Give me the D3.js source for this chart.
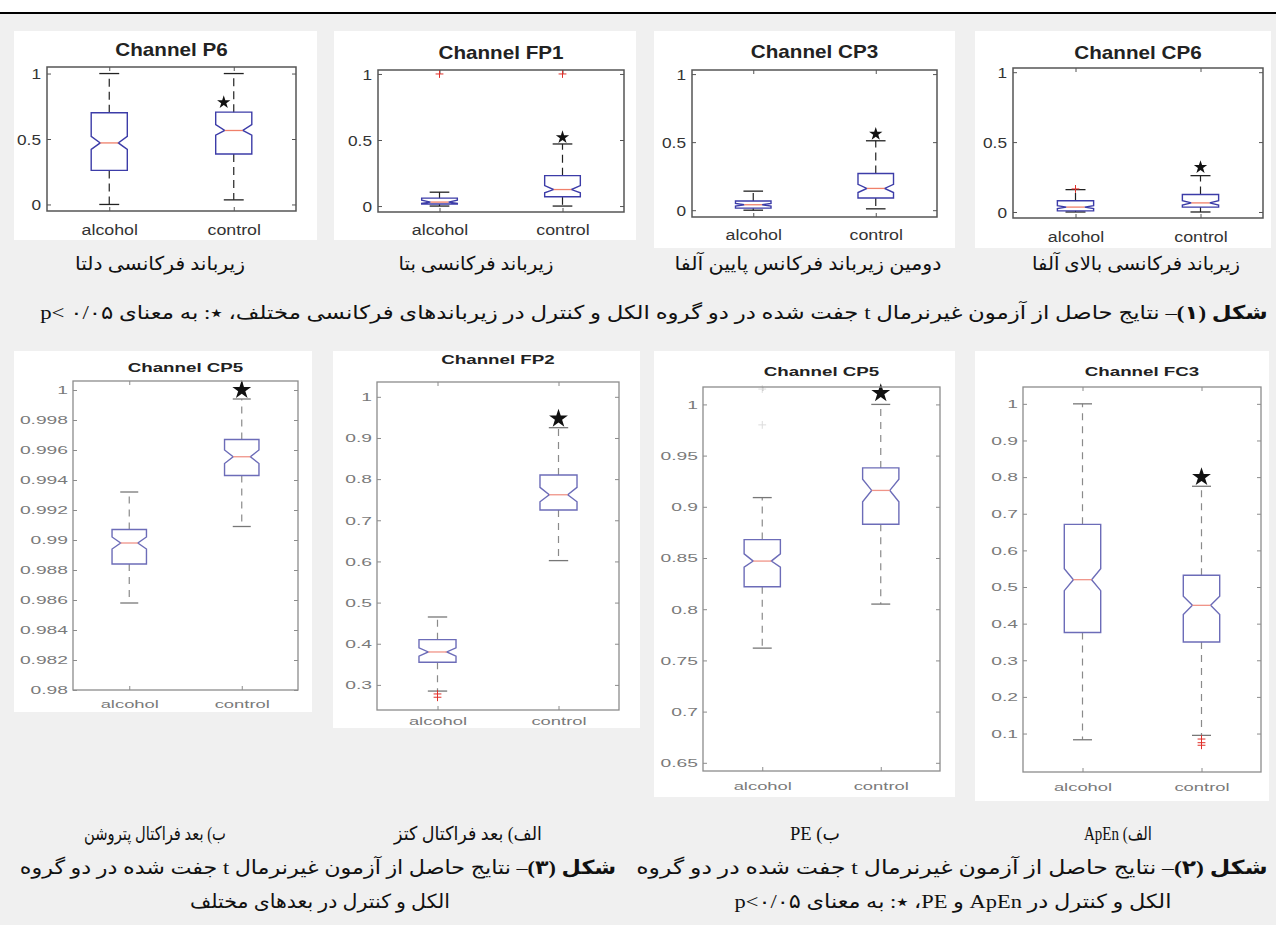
<!DOCTYPE html>
<html>
<head>
<meta charset="utf-8">
<script src="https://cdn.jsdelivr.net/npm/d3@7"></script>
<style>
  body { margin: 0; background: #fff; }
</style>
</head>
<body>
<svg id="fig" width="1276" height="935"></svg>
<script>
// ---- data ----
const groups = ['alcohol', 'control'];
const titles = ['Channel P6', 'Channel FP1', 'Channel CP3', 'Channel CP6',
                'Channel CP5', 'Channel FP2', 'Channel CP5', 'Channel FC3'];

const yTicks = [
  [0, 0.5, 1], [0, 0.5, 1], [0, 0.5, 1], [0, 0.5, 1],
  [0.98, 0.982, 0.984, 0.986, 0.988, 0.99, 0.992, 0.994, 0.996, 0.998, 1],
  [0.3, 0.4, 0.5, 0.6, 0.7, 0.8, 0.9, 1],
  [0.65, 0.7, 0.75, 0.8, 0.85, 0.9, 0.95, 1],
  [0.1, 0.2, 0.3, 0.4, 0.5, 0.6, 0.7, 0.8, 0.9, 1]
];

// each entry: [alcohol, control]
const whiskerLow  = [[0, 0.035], [0, 0], [0, 0.01], [0, 0], [0.9858, 0.9909], [0.285, 0.602], [0.762, 0.805], [0.083, 0.095]];
const quart1      = [[0.26, 0.385], [0.015, 0.07], [0.015, 0.09], [0.008, 0.035], [0.9884, 0.9943], [0.355, 0.725], [0.822, 0.883], [0.376, 0.35]];
const notchLow    = [[0.42, 0.53], [0.02, 0.10], [0.03, 0.13], [0.025, 0.05], [0.9894, 0.9951], [0.37, 0.745], [0.841, 0.905], [0.49, 0.425]];
const medians     = [[0.47, 0.565], [0.03, 0.125], [0.04, 0.16], [0.035, 0.065], [0.9898, 0.99555], [0.38, 0.762], [0.847, 0.916], [0.52, 0.45]];
const notchHigh   = [[0.52, 0.61], [0.045, 0.155], [0.05, 0.19], [0.045, 0.08], [0.9902, 0.996], [0.39, 0.78], [0.854, 0.927], [0.55, 0.475]];
const quart3      = [[0.70, 0.705], [0.06, 0.23], [0.068, 0.27], [0.08, 0.125], [0.9907, 0.9967], [0.41, 0.81], [0.868, 0.938], [0.671, 0.532]];
const whiskerHigh = [[1, 1], [0.105, 0.47], [0.14, 0.51], [0.16, 0.26], [0.9932, 0.9994], [0.465, 0.925], [0.909, 1.0], [1.0, 0.775]];
const outliers    = [[[], []], [[1], [1]], [[], []], [[0.165], []], [[], []], [[0.278, 0.27], []], [[0.98, 1.015], []], [[], [0.085, 0.075, 0.068]]];
// significance star drawn over the control group
const starAt = [0.78, 0.52, 0.56, 0.32, 1.0, 0.947, 1.011, 0.80];

const subCaptions = ['زیرباند فرکانسی دلتا', 'زیرباند فرکانسی بتا', 'دومین زیرباند فرکانس پایین آلفا', 'زیرباند فرکانسی بالای آلفا',
                     'ب) بعد فراکتال پتروشن', 'الف) بعد فراکتال کتز', 'ب) PE', 'الف) ApEn'];
const fig1Caption = ['شکل (۱)', '– نتایج حاصل از آزمون غیرنرمال t جفت شده در دو گروه الکل و کنترل در زیرباندهای فرکانسی مختلف، ٭: به معنای p< ۰/۰۵'];
const fig3Caption = ['شکل (۳)', '– نتایج حاصل از آزمون غیرنرمال t جفت شده در دو گروه', 'الکل و کنترل در بعدهای مختلف'];
const fig2Caption = ['شکل (۲)', '– نتایج حاصل از آزمون غیرنرمال t  جفت شده در دو گروه', 'الکل و کنترل در ApEn و PE، ٭: به معنای p<۰/۰۵'];

// ---- layout ----
// rect: white image area [x, y, w, h]; frame: plot box [x0, y0, x1, y1]
const panels = [
  { rect: [14, 31, 303, 209],  frame: [47, 67, 296, 211],    dom: [-0.05, 1.05],    titleY: 50,  labY: 230, row: 1, capX: 160,  capW: 170, starDx: -10 },
  { rect: [334, 31, 302, 209], frame: [378, 70, 624, 212],   dom: [-0.045, 1.03],   titleY: 53,  labY: 230, row: 1, capX: 476,  capW: 155, starDx: 0 },
  { rect: [654, 31, 301, 217], frame: [692, 70, 937, 217],   dom: [-0.05, 1.03],    titleY: 52,  labY: 235, row: 1, capX: 808,  capW: 267, starDx: 0 },
  { rect: [975, 31, 296, 217], frame: [1013, 68, 1263, 218], dom: [-0.043, 1.03],   titleY: 53,  labY: 237, row: 1, capX: 1136, capW: 208, starDx: 0 },
  { rect: [14, 351, 298, 361], frame: [73, 381, 298, 690],   dom: [0.98, 1.0006],   titleY: 368, labY: 704, row: 2, capX: 155,  capW: 142, starDx: 0 },
  { rect: [333, 351, 307, 377], frame: [377, 382, 619, 710], dom: [0.239, 1.036],   titleY: 360, labY: 721, row: 2, capX: 468,  capW: 148, starDx: 0 },
  { rect: [654, 351, 301, 446], frame: [703, 387, 940, 771], dom: [0.642, 1.017],   titleY: 372, labY: 786, row: 2, capX: 815,  capW: 50,  starDx: 0, faintOut: true },
  { rect: [975, 351, 294, 450], frame: [1023, 387, 1261, 772], dom: [-0.005, 1.046], titleY: 372, labY: 787, row: 2, capX: 1118, capW: 68,  starDx: 0 }
];

const styles = {
  1: { frame: '#555', fw: 1.5, text: '#333', tick: 15, tickSx: 1.15, pad: 6, lab: 15.5, labSx: 1.15, title: 17.5, titleSx: 1.18,
       box: '#3c3ca8', med: '#f0806a', whisk: '#222', cap: '#222', dash: '8,5', star: 55, hw: 0.145, tickLen: 4 },
  2: { frame: '#8c8c8c', fw: 1.3, text: '#7a7a7a', tick: 11, tickSx: 1.75, pad: 5, lab: 11.5, labSx: 1.6, title: 12.5, titleSx: 1.5,
       box: '#6c6cb8', med: '#f09488', whisk: '#8a8a8a', cap: '#777', dash: '7,6', star: 110, hw: 0.153, tickLen: 4 }
};

const sans = "'Liberation Sans', Arial, sans-serif";
const serif = "'Liberation Serif', 'DejaVu Sans', serif";

const svg = d3.select('#fig');
svg.append('rect').attr('x', 0).attr('y', 0).attr('width', 1276).attr('height', 935).attr('fill', '#fff');
svg.append('rect').attr('x', 0).attr('y', 14).attr('width', 1276).attr('height', 911).attr('fill', '#f0f0f0');
svg.append('line').attr('x1', 0).attr('x2', 1276).attr('y1', 13).attr('y2', 13)
  .attr('stroke', '#000').attr('stroke-width', 2);

function drawPanel(i) {
  const p = panels[i];
  const st = styles[p.row];
  const [fx0, fy0, fx1, fy1] = p.frame;
  const g = svg.append('g');

  g.append('rect').attr('x', p.rect[0]).attr('y', p.rect[1]).attr('width', p.rect[2]).attr('height', p.rect[3]).attr('fill', '#fff');

  const x = d3.scaleLinear().domain([0.5, 2.5]).range([fx0, fx1]);
  const y = d3.scaleLinear().domain(p.dom).range([fy1, fy0]);

  // axes with inward ticks on all four sides
  const left = g.append('g').attr('transform', `translate(${fx0},0)`)
    .call(d3.axisLeft(y).tickValues(yTicks[i]).tickSizeInner(-st.tickLen).tickSizeOuter(0)
      .tickPadding(st.pad).tickFormat(d => String(d)));
  const right = g.append('g').attr('transform', `translate(${fx1},0)`)
    .call(d3.axisRight(y).tickValues(yTicks[i]).tickSizeInner(-st.tickLen).tickSizeOuter(0).tickFormat(''));
  const bottom = g.append('g').attr('transform', `translate(0,${fy1})`)
    .call(d3.axisBottom(x).tickValues([1, 2]).tickSizeInner(-st.tickLen).tickSizeOuter(0)
      .tickFormat(d => groups[d - 1]));
  const top = g.append('g').attr('transform', `translate(0,${fy0})`)
    .call(d3.axisTop(x).tickValues([1, 2]).tickSizeInner(-st.tickLen).tickSizeOuter(0).tickFormat(''));

  [left, right, bottom, top].forEach(a => {
    a.select('.domain').remove();
    a.selectAll('line').attr('stroke', st.frame).attr('stroke-width', 1);
    a.attr('font-family', sans);
  });
  left.selectAll('text')
    .attr('fill', st.text).style('font-size', st.tick + 'px')
    .attr('x', -st.pad / st.tickSx).attr('dy', '0.35em')
    .attr('transform', `scale(${st.tickSx},1)`);
  bottom.selectAll('text')
    .attr('fill', st.text).style('font-size', st.lab + 'px')
    .attr('y', p.labY - fy1).attr('dy', '0.35em')
    .attr('transform', `scale(${st.labSx},1)`);

  // title
  g.append('g').attr('transform', `translate(${(fx0 + fx1) / 2},${p.titleY}) scale(${st.titleSx},1)`)
    .append('text').attr('text-anchor', 'middle').attr('dy', '0.35em')
    .style('font-family', sans).style('font-size', st.title + 'px').style('font-weight', 'bold')
    .attr('fill', '#222').text(titles[i]);

  const hw = x(1 + st.hw) - x(1);
  const cw = x(1.08) - x(1);

  groups.forEach((grp, j) => {
    const cx = x(j + 1);
    // whiskers
    g.append('line').attr('x1', cx).attr('x2', cx)
      .attr('y1', y(quart3[i][j])).attr('y2', y(whiskerHigh[i][j]))
      .attr('stroke', st.whisk).attr('stroke-width', 1.2).attr('stroke-dasharray', st.dash);
    g.append('line').attr('x1', cx).attr('x2', cx)
      .attr('y1', y(quart1[i][j])).attr('y2', y(whiskerLow[i][j]))
      .attr('stroke', st.whisk).attr('stroke-width', 1.2).attr('stroke-dasharray', st.dash);
    [whiskerHigh[i][j], whiskerLow[i][j]].forEach(v => {
      g.append('line').attr('x1', cx - cw).attr('x2', cx + cw).attr('y1', y(v)).attr('y2', y(v))
        .attr('stroke', st.cap).attr('stroke-width', 1.3);
    });

    // notched box
    const pts = [
      [cx - hw, y(quart1[i][j])], [cx - hw, y(notchLow[i][j])], [cx - hw / 2, y(medians[i][j])],
      [cx - hw, y(notchHigh[i][j])], [cx - hw, y(quart3[i][j])], [cx + hw, y(quart3[i][j])],
      [cx + hw, y(notchHigh[i][j])], [cx + hw / 2, y(medians[i][j])], [cx + hw, y(notchLow[i][j])],
      [cx + hw, y(quart1[i][j])]
    ];
    g.append('path').attr('d', d3.line()(pts) + 'Z')
      .attr('fill', 'none').attr('stroke', st.box).attr('stroke-width', 1.4);
    g.append('line').attr('x1', cx - hw / 2).attr('x2', cx + hw / 2)
      .attr('y1', y(medians[i][j])).attr('y2', y(medians[i][j]))
      .attr('stroke', st.med).attr('stroke-width', 1.3);

    // outliers (+)
    outliers[i][j].forEach(v => {
      g.append('path').attr('d', d3.symbol(d3.symbolPlus, 22)())
        .attr('transform', `translate(${cx},${y(v)})`)
        .attr('fill', 'none').attr('stroke', p.faintOut ? '#dcdcdc' : '#e0302a').attr('stroke-width', 1);
    });
  });

  // significance star over control
  g.append('path').attr('d', d3.symbol(d3.symbolStar, st.star)())
    .attr('transform', `translate(${x(2) + p.starDx},${y(starAt[i])})`)
    .attr('fill', '#111');

  // frame
  g.append('rect').attr('x', fx0).attr('y', fy0).attr('width', fx1 - fx0).attr('height', fy1 - fy0)
    .attr('fill', 'none').attr('stroke', st.frame).attr('stroke-width', st.fw);
}

d3.range(panels.length).forEach(drawPanel);

// ---- Persian captions, stretched to the measured widths ----
function caption(parts, cx, cy, width, size) {
  const g = svg.append('g');
  const t = g.append('text').attr('direction', 'rtl').attr('text-anchor', 'middle').attr('dy', '0.35em')
    .style('font-family', serif).style('font-size', size + 'px').attr('fill', '#111');
  parts.forEach(pt => {
    const s = t.append('tspan').text(pt.text);
    if (pt.bold) s.style('font-weight', 'bold');
  });
  const w = t.node().getComputedTextLength();
  g.attr('transform', `translate(${cx},${cy}) scale(${width / w},1)`);
}

panels.forEach((p, i) => {
  const cy = p.row === 1 ? 263 : 833;
  caption([{ text: subCaptions[i] }], p.capX, cy, p.capW, 19);
});

caption([{ text: fig1Caption[0], bold: true }, { text: fig1Caption[1] }], 654, 312, 1228, 19);
caption([{ text: fig3Caption[0], bold: true }, { text: fig3Caption[1] }], 318, 867, 597, 19.5);
caption([{ text: fig3Caption[2] }], 320, 901, 260, 19.5);
caption([{ text: fig2Caption[0], bold: true }, { text: fig2Caption[1] }], 952, 867, 632, 19.5);
caption([{ text: fig2Caption[2] }], 953, 901, 437, 19.5);
</script>
</body>
</html>
